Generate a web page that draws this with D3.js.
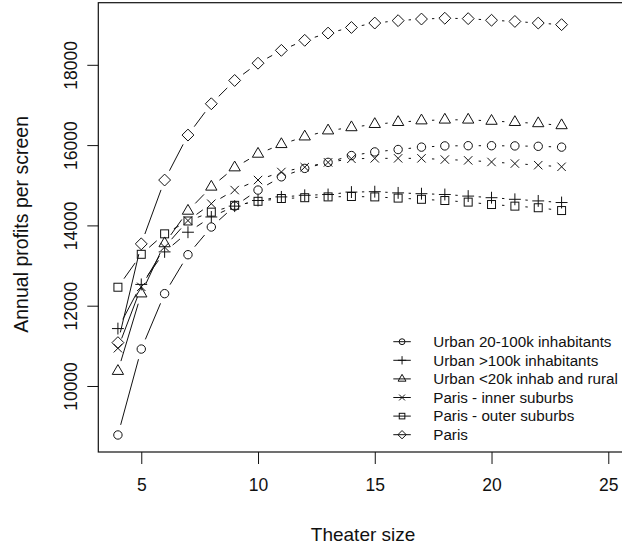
<!DOCTYPE html>
<html>
<head>
<meta charset="utf-8">
<script src="https://cdn.jsdelivr.net/npm/d3@7"></script>
<style>
  body { margin: 0; background: #fff; }
  svg { display: block; font-family: "Liberation Sans", Arial, Helvetica, sans-serif; }
</style>
</head>
<body>
<div id="chart"></div>
<script>
// theater size (number of screens) on the x axis
var theaterSize = [4, 5, 6, 7, 8, 9, 10, 11, 12, 13, 14, 15, 16, 17, 18, 19, 20, 21, 22, 23];

// annual profits per screen, one array per area type
var urbanMid   = [8780, 10920, 12300, 13270, 13960, 14480, 14880, 15210, 15420, 15570, 15740, 15830, 15890, 15950, 15980, 15985, 15985, 15980, 15970, 15950];
var urbanLarge = [11430, 12530, 13340, 13830, 14210, 14480, 14620, 14710, 14750, 14770, 14830, 14840, 14810, 14790, 14770, 14730, 14690, 14650, 14610, 14570];
var urbanSmall = [10370, 12300, 13550, 14360, 14960, 15440, 15780, 16020, 16210, 16360, 16440, 16520, 16570, 16610, 16630, 16630, 16600, 16570, 16540, 16490];
var parisInner = [10940, 12470, 13460, 14120, 14540, 14880, 15130, 15330, 15450, 15570, 15660, 15670, 15670, 15670, 15640, 15620, 15580, 15540, 15500, 15460];
var parisOuter = [12460, 13280, 13790, 14110, 14330, 14500, 14600, 14670, 14690, 14710, 14720, 14710, 14680, 14650, 14620, 14580, 14520, 14480, 14440, 14370];
var paris      = [11080, 13540, 15130, 16250, 17030, 17610, 18040, 18360, 18610, 18790, 18930, 19040, 19100, 19140, 19160, 19150, 19110, 19080, 19040, 19000];

var seriesNames = ["Urban 20-100k inhabitants", "Urban >100k inhabitants", "Urban <20k inhab and rural",
                   "Paris - inner suburbs", "Paris - outer suburbs", "Paris"];
var seriesValues = [urbanMid, urbanLarge, urbanSmall, parisInner, parisOuter, paris];
var seriesShapes = ["circle", "plus", "triangle", "cross", "square", "diamond"];

var xTicks = [5, 10, 15, 20, 25];
var yTicks = [10000, 12000, 14000, 16000, 18000];

const width = 622, height = 548;
const ink = "#111";
const gap = 10.5;      // space left around each point on the connecting lines
const R = 4.2;         // base symbol radius

// plot region (right edge falls just outside the window)
const box = { left: 98.3, right: 627.9, top: 2.7, bottom: 452 };

let svg = d3.select("#chart").append("svg")
  .attr("width", width)
  .attr("height", height);

// x limits cover 4..25 with the usual 4% padding, y limits the data with 4% padding
let x = d3.scaleLinear().domain([3.16, 25.84]).range([box.left, box.right]);
let y = d3.scaleLinear().domain([8356, 19547]).range([box.bottom, box.top]);

// draw one plotting symbol centred on (cx, cy)
function symbol(g, shape, cx, cy, s) {
  let r = R * s;
  let p = g.append("g").attr("fill", "none").attr("stroke", ink).attr("stroke-width", 1);
  if (shape === "circle") {
    p.append("circle").attr("cx", cx).attr("cy", cy).attr("r", r);
  } else if (shape === "square") {
    let h = r * 0.95;
    p.append("rect").attr("x", cx - h).attr("y", cy - h).attr("width", 2 * h).attr("height", 2 * h);
  } else if (shape === "triangle") {
    let tr = 1.555 * r, ty = 0.7775 * r, tx = 1.347 * r;
    p.append("path").attr("d", `M${cx},${cy - tr}L${cx + tx},${cy + ty}L${cx - tx},${cy + ty}Z`);
  } else if (shape === "diamond") {
    let d = Math.SQRT2 * r;
    p.append("path").attr("d", `M${cx},${cy - d}L${cx + d},${cy}L${cx},${cy + d}L${cx - d},${cy}Z`);
  } else if (shape === "plus") {
    let d = Math.SQRT2 * r;
    p.append("path").attr("d", `M${cx - d},${cy}H${cx + d}M${cx},${cy - d}V${cy + d}`);
  } else if (shape === "cross") {
    p.append("path").attr("d", `M${cx - r},${cy - r}L${cx + r},${cy + r}M${cx - r},${cy + r}L${cx + r},${cy - r}`);
  }
}

// frame (clipped by the window on the right)
svg.append("rect")
  .attr("x", box.left).attr("y", box.top)
  .attr("width", box.right - box.left).attr("height", box.bottom - box.top)
  .attr("fill", "none").attr("stroke", ink).attr("stroke-width", 1.2);

// x axis
let xAxis = svg.append("g")
  .attr("transform", `translate(0,${box.bottom})`)
  .call(d3.axisBottom(x).tickValues(xTicks).tickSize(12).tickPadding(15).tickFormat(d3.format("d")));
xAxis.select(".domain").remove();
xAxis.selectAll("line").attr("stroke", ink);
xAxis.selectAll("text").attr("font-size", 17.5).attr("fill", ink).attr("font-family", null);

// y axis, labels turned to run along the axis
let yAxis = svg.append("g")
  .attr("transform", `translate(${box.left},0)`)
  .call(d3.axisLeft(y).tickValues(yTicks).tickSize(11).tickFormat(d3.format("d")));
yAxis.select(".domain").remove();
yAxis.selectAll("line").attr("stroke", ink);
yAxis.selectAll("text")
  .attr("font-size", 17.5).attr("fill", ink).attr("font-family", null)
  .attr("x", null).attr("dy", null)
  .attr("text-anchor", "middle")
  .attr("transform", "translate(-21,0) rotate(-90)");

// axis titles
svg.append("text")
  .attr("x", (box.left + box.right) / 2).attr("y", 541)
  .attr("text-anchor", "middle").attr("font-size", 19).attr("fill", ink)
  .text("Theater size");

svg.append("text")
  .attr("transform", `translate(28,${(box.top + box.bottom) / 2 - 3}) rotate(-90)`)
  .attr("text-anchor", "middle").attr("font-size", 19.5).attr("fill", ink)
  .text("Annual profits per screen");

// lines with gaps around the points, then the points
let plot = svg.append("g");
seriesValues.forEach(function(vals, k) {
  let pts = vals.map((v, i) => [x(theaterSize[i]), y(v)]);
  for (let i = 0; i < pts.length - 1; i++) {
    let [x1, y1] = pts[i], [x2, y2] = pts[i + 1];
    let len = Math.hypot(x2 - x1, y2 - y1);
    if (len <= 2 * gap) continue;
    let ux = (x2 - x1) / len, uy = (y2 - y1) / len;
    plot.append("line")
      .attr("x1", x1 + ux * gap).attr("y1", y1 + uy * gap)
      .attr("x2", x2 - ux * gap).attr("y2", y2 - uy * gap)
      .attr("stroke", ink).attr("stroke-width", 1);
  }
  pts.forEach(p => symbol(plot, seriesShapes[k], p[0], p[1], 1));
});

// legend, no box
const legX = 393.3, legLen = 17.5, legTextX = 433.3, legY = 341.7, legStep = 18.6;
let legend = svg.append("g");
seriesNames.forEach(function(name, k) {
  let ly = legY + k * legStep;
  legend.append("line")
    .attr("x1", legX).attr("x2", legX + legLen).attr("y1", ly).attr("y2", ly)
    .attr("stroke", ink).attr("stroke-width", 1);
  symbol(legend, seriesShapes[k], legX + legLen / 2, ly, 0.7);
  legend.append("text")
    .attr("x", legTextX).attr("y", ly + 5.3)
    .attr("font-size", 15.2).attr("fill", ink)
    .text(name);
});
</script>
</body>
</html>
